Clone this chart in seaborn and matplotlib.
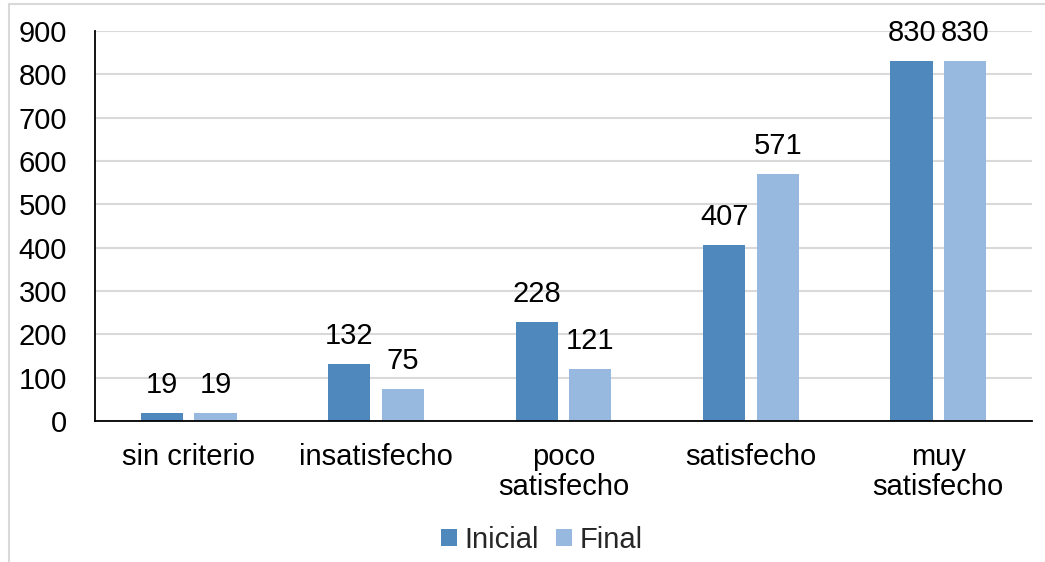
import matplotlib
matplotlib.use("Agg")
import matplotlib.pyplot as plt
from matplotlib.patches import Rectangle
import seaborn as sns
import pandas as pd

categorias = ["sin criterio", "insatisfecho", "poco\nsatisfecho", "satisfecho", "muy\nsatisfecho"]
inicial = [19, 132, 228, 407, 830]
final = [19, 75, 121, 571, 830]
series = ["Inicial", "Final"]
colores = ["#4F88BD", "#97B9E0"]
yticks = [0, 100, 200, 300, 400, 500, 600, 700, 800, 900]

df = pd.DataFrame({
    "categoria": categorias * 2,
    "valor": inicial + final,
    "serie": [series[0]] * len(categorias) + [series[1]] * len(categorias),
})

sns.set_theme(style="white")
plt.rcParams["font.family"] = ["Liberation Sans", "DejaVu Sans"]
FS = 21

fig = plt.figure(figsize=(10.45, 5.62), dpi=100)
W, H = 1045, 562
ax = fig.add_axes([95 / W, 1 - 421 / H, (1032 - 95) / W, (421 - 31) / H])

# outer chart frame
fig.patches.append(Rectangle((9 / W, -0.1), 1.2, 1 - 4 / H + 0.1, transform=fig.transFigure,
                             fill=False, edgecolor="#D9D9D9", linewidth=1.5, zorder=0))

sns.barplot(data=df, x="categoria", y="valor", hue="serie", palette=colores,
            width=0.57, gap=0.21, ax=ax, saturation=1, linewidth=0, zorder=3)

for cont in ax.containers:
    for bar in cont:
        h = bar.get_height()
        ax.annotate(f"{int(round(h))}", (bar.get_x() + bar.get_width() / 2, h),
                    xytext=(0, 10), textcoords="offset points",
                    ha="center", va="bottom", fontsize=FS, color="black")

ax.set_xlim(-0.5, 4.5)
ax.set_ylim(0, 900)
ax.set_yticks(yticks)
ax.yaxis.grid(True, color="#D9D9D9", linewidth=1.5, zorder=0)
ax.set_axisbelow(True)
ax.set_xlabel("")
ax.set_ylabel("")
ax.tick_params(axis="y", length=0, pad=20, labelsize=FS, colors="black")
ax.tick_params(axis="x", length=0, pad=16, labelsize=FS, colors="black")
for lbl in ax.get_xticklabels():
    lbl.set_linespacing(1.1)
for s in ["top", "right"]:
    ax.spines[s].set_visible(False)
for s in ["left", "bottom"]:
    ax.spines[s].set_color("black")
    ax.spines[s].set_linewidth(1.3)
ax.spines["left"].set_zorder(4)
ax.spines["bottom"].set_zorder(4)

leg = ax.legend(loc="center", bbox_to_anchor=(542 / W, 1 - 540 / H), bbox_transform=fig.transFigure,
                ncol=2, frameon=False, fontsize=FS, handlelength=0.55, handleheight=0.55,
                handletextpad=0.25, columnspacing=0.6)

fig.savefig("out.png", dpi=100)
